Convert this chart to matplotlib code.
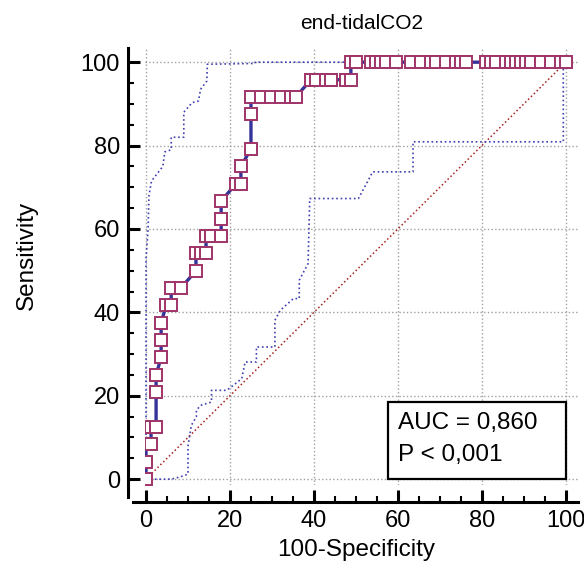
import matplotlib
matplotlib.use("Agg")
import matplotlib.pyplot as plt
from matplotlib.ticker import MultipleLocator
from matplotlib.patches import Rectangle

plt.rcParams['font.family'] = ['Liberation Sans', 'DejaVu Sans']

# ROC curve points (100-Specificity, Sensitivity)
roc_fpr = [0, 0, 0, 1.2, 1.2, 2.4, 2.4, 2.4, 3.6, 3.6, 3.6, 4.8, 6.0, 6.0, 8.3,
           11.9, 11.9, 13.1, 14.3, 14.3, 15.5, 17.9, 17.9, 17.9, 21.4, 22.6, 22.6,
           25.0, 25.0, 25.0, 27.4, 29.8, 32.1, 34.5, 35.7,
           39.3, 40.5, 42.9, 44.0, 47.6, 48.8,
           48.8, 50.0, 53.6, 54.8, 56.0, 57.1, 59.5, 63.1, 65.5, 67.9, 69.0, 71.4,
           73.8, 75.0, 76.2, 80.9, 82.1, 83.3, 85.7, 86.9, 88.1, 89.3, 90.5, 91.7,
           94.0, 96.4, 98.8, 100]
roc_tpr = [0, 4.17, 8.33, 8.33, 12.5, 12.5, 20.8, 25.0, 29.2, 33.3, 37.5, 41.7, 41.7, 45.8, 45.8,
           50.0, 54.2, 54.2, 54.2, 58.3, 58.3, 58.3, 62.5, 66.7, 70.8, 70.8, 75.0,
           79.2, 87.5, 91.7, 91.7, 91.7, 91.7, 91.7, 91.7,
           95.8, 95.8, 95.8, 95.8, 95.8, 95.8,
           100, 100, 100, 100, 100, 100, 100, 100, 100, 100, 100, 100,
           100, 100, 100, 100, 100, 100, 100, 100, 100, 100, 100, 100,
           100, 100, 100, 100]

# 95% confidence bounds
upper_x = [0, 0, 0.5, 0.7, 1.3, 4.0, 4.5, 6.0, 6.0, 9.0, 9.0, 11.0, 12.5, 13.0, 14.5, 14.6, 26.0, 26.0, 100]
upper_y = [0, 53, 60, 68, 71.5, 75, 78.5, 79, 82, 82, 88, 90.3, 90.7, 93.5, 95.5, 99.5, 99.7, 100, 100]
lower_x = [0, 6.0, 8.0, 10.0, 10.0, 10.8, 12.0, 12.0, 13.0, 15.6, 15.6, 19.2, 20.8, 22.8, 23.6, 26.3,
           26.3, 30.7, 30.7, 32.0, 35.1, 36.5, 36.5, 38.6, 39.0, 50.6, 54.0, 63.6, 63.6, 99.4, 99.4, 100]
lower_y = [0, 0, 0.5, 1.2, 8.0, 12.9, 15.0, 16.5, 17.7, 18.5, 21.3, 21.3, 22.5, 24.1, 28.1, 28.1,
           31.7, 31.7, 38.1, 40.5, 43.3, 43.3, 47.7, 51.7, 67.3, 67.3, 73.7, 73.7, 80.9, 80.9, 100, 100]

diag = [0, 100]
ticks = [0, 20, 40, 60, 80, 100]
auc_text = "AUC = 0,860"
p_text = "P < 0,001"

fig = plt.figure(figsize=(5.84, 5.65), dpi=100)
ax = fig.add_axes([145 / 584, 80 / 565, 433 / 584, 437 / 565])
ax.set_xlim(-0.24, 102.9)
ax.set_ylim(-1.4, 103.4)

ax.set_xticks(ticks)
ax.set_yticks(ticks)
ax.xaxis.set_minor_locator(MultipleLocator(5))
ax.yaxis.set_minor_locator(MultipleLocator(5))
ax.grid(True, which='major', color='#a0a0a0', linestyle=':', linewidth=1.0)
ax.set_axisbelow(True)

# spines offset outward, like the original
for side in ['top', 'right']:
    ax.spines[side].set_visible(False)
ax.spines['left'].set_position(('outward', 12))
ax.spines['bottom'].set_position(('outward', 12))
ax.spines['left'].set_bounds(-4.3, 103.4)
ax.spines['bottom'].set_bounds(-3.1, 102.9)
for side in ['left', 'bottom']:
    ax.spines[side].set_linewidth(2.2)
ax.tick_params(which='major', direction='in', length=8.6, width=2.2, labelsize=17, pad=6)
ax.tick_params(which='minor', direction='in', length=4.3, width=1.5)

# diagonal reference line
ax.plot(diag, diag, color='#a82020', linestyle=':', linewidth=1.1, zorder=2)

# confidence bounds
ax.plot(upper_x, upper_y, color='#4040b0', linestyle=':', linewidth=1.2, zorder=2)
ax.plot(lower_x, lower_y, color='#4040b0', linestyle=':', linewidth=1.2, zorder=2)

# ROC curve
ax.plot(roc_fpr, roc_tpr, color='#333399', linewidth=2.4, zorder=3,
        marker='s', markersize=8.8, markerfacecolor='white',
        markeredgecolor='#a03468', markeredgewidth=1.4)

# AUC box
ax.add_patch(Rectangle((57.6, 0), 42.4, 18.5, facecolor='white', edgecolor='black',
                       linewidth=1.6, zorder=4))
ax.text(60, 13.4, auc_text, fontsize=17.5, va='center', ha='left', zorder=5)
ax.text(60, 5.8, p_text, fontsize=17.5, va='center', ha='left', zorder=5)

ax.set_title("end-tidalCO2", fontsize=15, pad=14)
fig.text(356 / 584, 1 - 550 / 565, "100-Specificity", fontsize=17.5, ha='center', va='center')
fig.text(27 / 584, 1 - 255 / 565, "Sensitivity", fontsize=17.5, rotation=90, ha='center', va='center')

fig.savefig("out.png", dpi=100)
